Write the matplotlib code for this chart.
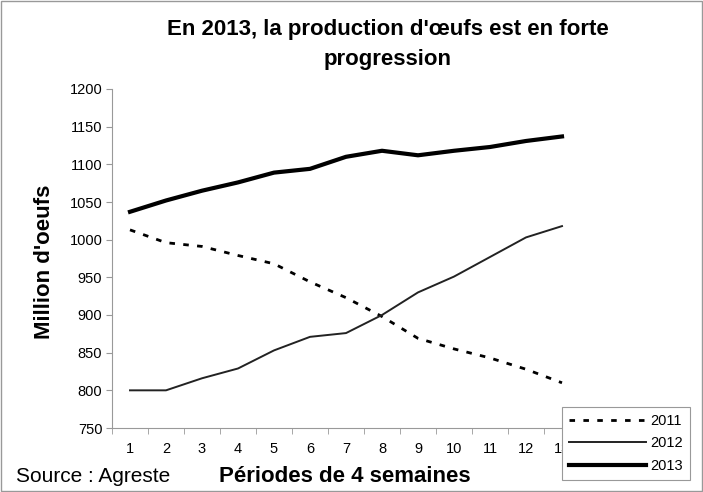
import matplotlib.pyplot as plt
from matplotlib.patches import Rectangle

plt.rcParams['font.family'] = ['Liberation Sans', 'DejaVu Sans']

# données (millions d'oeufs par période de 4 semaines)
periodes = ['1', '2', '3', '4', '5', '6', '7', '8', '9', '10', '11', '12', '13']
prod_2011 = [1013, 996, 991, 979, 968, 944, 923, 898, 869, 855, 843, 828, 810]
prod_2012 = [800, 800, 816, 829, 853, 871, 876, 900, 930, 951, 977, 1003, 1018]
prod_2013 = [1037, 1052, 1065, 1076, 1089, 1094, 1110, 1118, 1112, 1118, 1123, 1131, 1137]

fig = plt.figure(figsize=(7.03, 4.92), dpi=100)
ax = fig.add_axes([112 / 703, 1 - 428 / 492, 468 / 703, 339 / 492])

x = range(len(periodes))
ax.plot(x, prod_2011, color='black', lw=2, ls=(0, (2, 3)), label='2011')
ax.plot(x, prod_2012, color='#222222', lw=1.4, label='2012')
ax.plot(x, prod_2013, color='black', lw=3, label='2013')

ax.set_xlim(-0.5, len(periodes) - 0.5)
ax.set_ylim(750, 1200)
ax.set_yticks(range(750, 1201, 50))
ax.set_xticks(x)
ax.set_xticklabels(periodes)
ax.set_xticks([i - 0.5 for i in range(len(periodes) + 1)], minor=True)
ax.tick_params(axis='x', which='major', length=0, pad=10, labelsize=10.5)
ax.tick_params(axis='x', which='minor', length=4, color='#999999')
ax.tick_params(axis='y', length=4, color='#999999', labelsize=10.5, pad=3)
for side in ['top', 'right']:
    ax.spines[side].set_visible(False)
for side in ['left', 'bottom']:
    ax.spines[side].set_color('#999999')

fig.text(388 / 703, 1 - 30 / 492, "En 2013, la production d'œufs est en forte",
         ha='center', va='center', fontsize=16, fontweight='bold')
fig.text(388 / 703, 1 - 60 / 492, "progression",
         ha='center', va='center', fontsize=16, fontweight='bold')
fig.text(45 / 703, 1 - 262 / 492, "Million d'oeufs", rotation=90,
         ha='center', va='center', fontsize=16, fontweight='bold')
fig.text(345 / 703, 1 - 476 / 492, "Périodes de 4 semaines",
         ha='center', va='center', fontsize=16, fontweight='bold')
fig.text(16 / 703, 1 - 476 / 492, "Source : Agreste",
         ha='left', va='center', fontsize=15)

leg = fig.legend(loc='lower right', bbox_to_anchor=(697 / 703, 1 - 487 / 492),
                 frameon=True, fancybox=False, edgecolor='#999999', framealpha=1,
                 handlelength=5.3, handletextpad=0.3, labelspacing=0.6,
                 borderpad=0.45, fontsize=10.5, markerfirst=True)
leg.get_frame().set_linewidth(0.8)
leg.set_zorder(10)

fig.patches.append(Rectangle((0.002, 0.002), 0.996, 0.996, transform=fig.transFigure,
                             fill=False, edgecolor='#999999', lw=1))

fig.savefig('out.png', dpi=100)
